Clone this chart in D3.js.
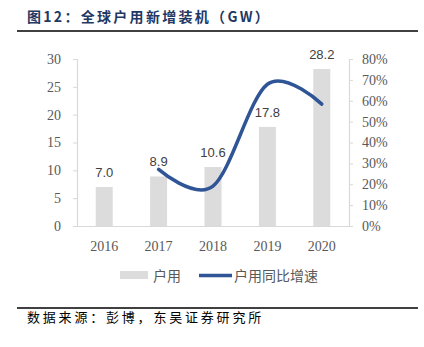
<!DOCTYPE html>
<html><head><meta charset="utf-8">
<script src="https://cdn.jsdelivr.net/npm/d3@7"></script>
<style>body{margin:0;background:#fff}svg{display:block}</style>
</head><body>
<script>
const years = ["2016","2017","2018","2019","2020"];
const capacity = [7.0, 8.9, 10.6, 17.8, 28.2];
const growthYears = ["2017","2018","2019","2020"];
const growth = [0.271, 0.191, 0.679, 0.584];
const leftTicks = [0,5,10,15,20,25,30];
const rightTicks = [0,0.1,0.2,0.3,0.4,0.5,0.6,0.7,0.8];
const titleText = "图12：全球户用新增装机（GW）";
const sourceText = "数据来源：彭博，东吴证券研究所";
const legendBar = "户用", legendLine = "户用同比增速";

const W=424,H=347;
const svg=d3.select("body").append("svg").attr("width",W).attr("height",H);
const x0=77,x1=349,yTop=59,yBot=226;
const x=d3.scaleBand().domain(years).range([x0,x1]).paddingInner(0.6875).paddingOuter(0.34375);
const y=d3.scaleLinear().domain([0,30]).range([yBot,yTop]);
const y2=d3.scaleLinear().domain([0,0.8]).range([yBot,yTop]);
const serif="'Liberation Serif','Times New Roman',serif";
const cjk="'Noto Sans CJK SC',sans-serif";

// title
svg.append("text").attr("x",27).attr("y",22).attr("font-family",cjk).attr("font-weight","bold")
  .attr("font-size",14).attr("fill","#1F3864").attr("letter-spacing",2.3).text(titleText);
svg.append("line").attr("x1",17).attr("x2",418).attr("y1",31).attr("y2",31).attr("stroke","#000").attr("stroke-width",1.5);

// axes
const axL=svg.append("g").attr("transform",`translate(${x0},0)`)
  .call(d3.axisLeft(y).tickValues(leftTicks).tickSize(4).tickPadding(12));
const axR=svg.append("g").attr("transform",`translate(${x1},0)`)
  .call(d3.axisRight(y2).tickValues(rightTicks).tickSize(4).tickPadding(9).tickFormat(d3.format(".0%")));
const axB=svg.append("g").attr("transform",`translate(0,${yBot})`)
  .call(d3.axisBottom(x).tickSize(0).tickPadding(15));
[axL,axR,axB].forEach(g=>{
  g.selectAll("path.domain").attr("stroke","#d9d9d9").attr("stroke-width",1.2);
  g.selectAll(".tick line").attr("stroke","#d9d9d9");
  g.selectAll("text").attr("font-family",serif).attr("font-size",14).attr("fill","#595959");
});

// bars
svg.append("g").selectAll("rect").data(years).join("rect")
  .attr("x",d=>x(d)).attr("width",x.bandwidth())
  .attr("y",(d,i)=>y(capacity[i])).attr("height",(d,i)=>yBot-y(capacity[i]))
  .attr("fill","#dcdcdc");
svg.append("g").selectAll("text").data(years).join("text")
  .attr("x",d=>x(d)+x.bandwidth()/2).attr("y",(d,i)=>y(capacity[i])-10)
  .attr("text-anchor","middle").attr("font-family","'Liberation Sans',Arial,sans-serif")
  .attr("font-size",13).attr("fill","#404040").text((d,i)=>capacity[i].toFixed(1));

// line
const line=d3.line().x(d=>x(d[0])+x.bandwidth()/2).y(d=>y2(d[1])).curve(d3.curveCardinal.tension(0));
svg.append("path").datum(growthYears.map((d,i)=>[d,growth[i]])).attr("d",line)
  .attr("fill","none").attr("stroke","#2F5597").attr("stroke-width",3.5).attr("stroke-linecap","round");

// legend
svg.append("rect").attr("x",120).attr("y",271).attr("width",28).attr("height",8).attr("fill","#dcdcdc");
svg.append("text").attr("x",153).attr("y",281).attr("font-family",cjk).attr("font-size",14).attr("fill","#595959").text(legendBar);
svg.append("line").attr("x1",199).attr("x2",232).attr("y1",275.5).attr("y2",275.5).attr("stroke","#2F5597").attr("stroke-width",3.5);
svg.append("text").attr("x",234).attr("y",281).attr("font-family",cjk).attr("font-size",14).attr("fill","#595959").text(legendLine);

// source
svg.append("line").attr("x1",17).attr("x2",418).attr("y1",308).attr("y2",308).attr("stroke","#000").attr("stroke-width",1.5);
svg.append("text").attr("x",27).attr("y",322).attr("font-family",cjk).attr("font-size",13).attr("fill","#000")
  .attr("letter-spacing",2.8).text(sourceText);
</script>
</body></html>
